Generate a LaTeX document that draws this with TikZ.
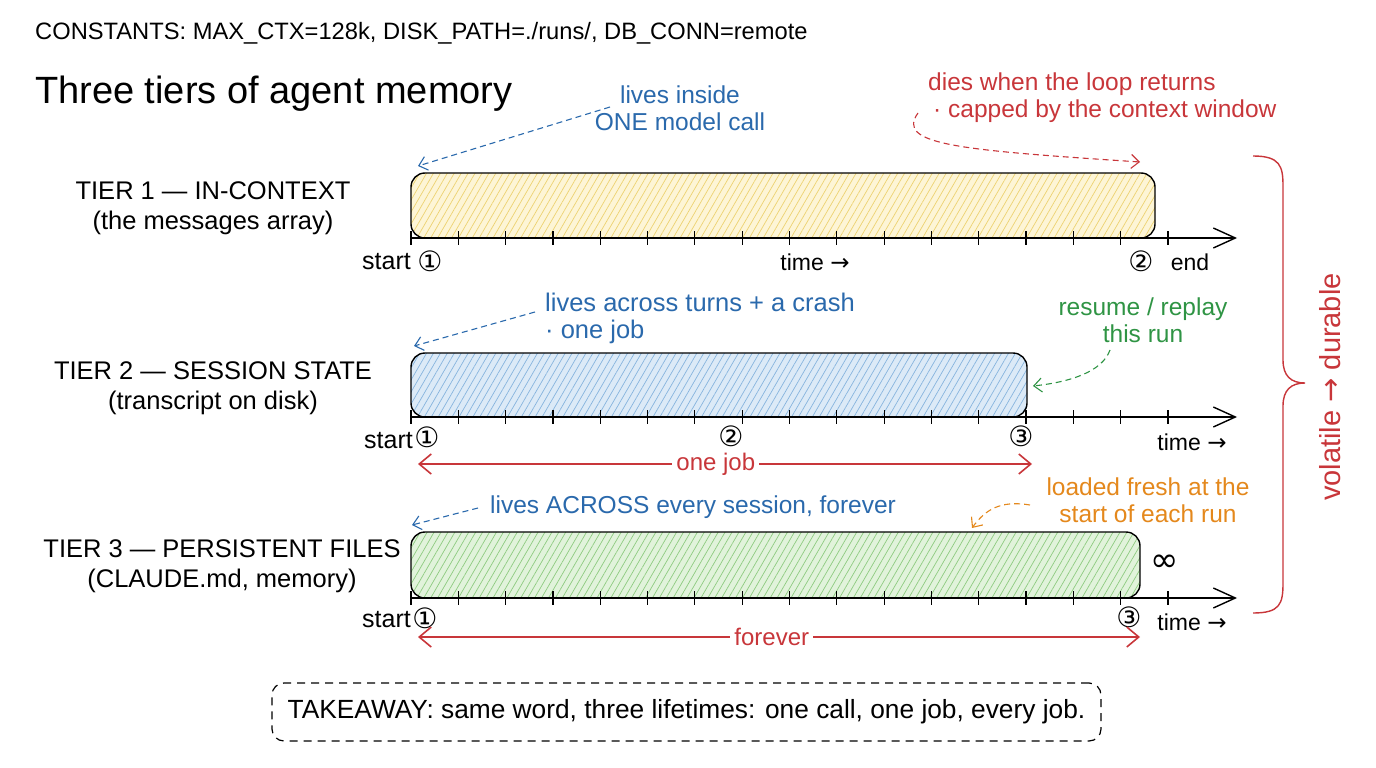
\documentclass[tikz,border=0pt]{standalone}
\usepackage{fontspec}
\setmainfont{Liberation Sans}
\newfontfamily\sym{DejaVu Sans}
\usetikzlibrary{arrows.meta,patterns.meta}
\definecolor{yfill}{HTML}{FDF5D6}
\definecolor{yhatch}{HTML}{EDD270}
\definecolor{bfill}{HTML}{DCEAF7}
\definecolor{bhatch}{HTML}{86B4DE}
\definecolor{gfill}{HTML}{E1F3DB}
\definecolor{ghatch}{HTML}{8ECB80}
\definecolor{annblue}{HTML}{2A69AC}
\definecolor{annred}{HTML}{C8363A}
\definecolor{anngreen}{HTML}{2F9444}
\definecolor{annorange}{HTML}{E4881C}
\newcommand\fsz[2]{\fontsize{#1}{#2}\selectfont}
\begin{document}
\begin{tikzpicture}[x=1pt,y=-1pt,
  txt/.style={inner sep=0pt, text=black},
  ann/.style={inner sep=0pt, align=center, font=\fsz{24.5}{27}},
  tierlbl/.style={inner sep=0pt, align=center, font=\fsz{25.5}{30}},
  bar/.style={draw=black, line width=1.4pt, rounded corners=14pt, inner sep=0pt},
  bar1/.style={bar, preaction={fill=yfill}, pattern={Lines[angle=60,distance=6pt,line width=0.7pt]}, pattern color=yhatch},
  bar2/.style={bar, preaction={fill=bfill}, pattern={Lines[angle=60,distance=6pt,line width=0.7pt]}, pattern color=bhatch},
  bar3/.style={bar, preaction={fill=gfill}, pattern={Lines[angle=60,distance=6pt,line width=0.7pt]}, pattern color=ghatch},
  axis/.style={line width=1.4pt, -{Straight Barb[length=22pt,width=20pt,line width=1.4pt]}},
  tickmark/.style={line width=1.2pt},
  dasharr/.style={line width=1.1pt, dash pattern=on 6pt off 4pt, -{Straight Barb[length=8pt,width=14pt,line width=1.1pt]}},
  redarr/.style={annred, line width=1.9pt, {Straight Barb[length=12pt,width=20pt,line width=1.6pt]}-{Straight Barb[length=12pt,width=20pt,line width=1.6pt]}},
  circ/.style={inner sep=0pt, font=\sym\fsz{28}{30}},
  axlbl/.style={inner sep=0pt, font=\fsz{23}{26}},
  spanlbl/.style={inner xsep=4pt, inner ysep=0pt, fill=white, text=annred, font=\fsz{24}{27}}
]
\useasboundingbox (0,0) rectangle (1376,768);

% header
\node[txt, anchor=base west, font=\fsz{23.7}{28}] (const) at (35,40) {CONSTANTS: MAX\_CTX=128k, DISK\_PATH=./runs/, DB\_CONN=remote};
\node[txt, anchor=base west, font=\fsz{38}{44}] (title) at (35,103) {Three tiers of agent memory};

% tier labels
\node[tierlbl] (tl1) at (213,208) {TIER 1 — IN-CONTEXT\\(the messages array)};
\node[tierlbl] (tl2) at (213,388) {TIER 2 — SESSION STATE\\(transcript on disk)};
\node[tierlbl] (tl3) at (222,566) {TIER 3 — PERSISTENT FILES\\(CLAUDE.md, memory)};

% bars
\node[bar1, minimum width=744pt, minimum height=65pt] (bar1) at (783,205.5) {};
\node[bar2, minimum width=616pt, minimum height=64pt] (bar2) at (719,385) {};
\node[bar3, minimum width=729pt, minimum height=66pt] (bar3) at (775.5,565) {};

% axes and ticks
\foreach \yy/\n in {238/1,417/2,598/3} {
  \coordinate (ax\n s) at (411,\yy);
  \coordinate (ax\n e) at (1237,\yy);
  \draw[axis] (ax\n s) -- (ax\n e);
  \foreach \k in {0,...,16} \draw[tickmark] ({411+\k*47.3125},{\yy-7}) -- ++(0,14);
}

% row 1 labels
\node[axlbl, anchor=east, font=\fsz{25}{28}] (st1) at (411,262) {start};
\node[circ] (c11) at (430,261) {①};
\node[axlbl] (time1) at (815,262) {time {\sym →}};
\node[circ] (c12) at (1141,261) {②};
\node[axlbl] (end1) at (1190,262) {end};

% row 2 labels
\node[axlbl, anchor=east, font=\fsz{25}{28}] (st2) at (413,441) {start};
\node[circ] (c21) at (427,437) {①};
\node[circ] (c22) at (731,436) {②};
\node[circ] (c23) at (1021,436) {③};
\node[axlbl] (time2) at (1192,442) {time {\sym →}};

% row 3 labels
\node[axlbl, anchor=east, font=\fsz{25}{28}] (st3) at (411,620) {start};
\node[circ] (c31) at (425,618) {①};
\node[circ] (c33) at (1129,617) {③};
\node[axlbl] (time3) at (1192,622) {time {\sym →}};
\node[inner sep=0pt, font=\sym\fsz{34}{36}] (inf) at (1165,563) {∞};

% span arrows
\coordinate (j1) at (418,464); \coordinate (j2) at (1032,464);
\draw[redarr] (j1) -- node[spanlbl, pos=0.485] (onejob) {one job} (j2);
\coordinate (f1) at (418,637); \coordinate (f2) at (1140,637);
\draw[redarr] (f1) -- node[spanlbl, pos=0.49] (forever) {forever} (f2);

% annotations
\node[ann, text=annblue] (a1) at (680,108) {lives inside\\ONE model call};
\node[ann, text=annred, align=left, anchor=west] (a2) at (928,98) {dies when the loop returns\\\hspace{5pt}· capped by the context window};
\node[ann, text=annblue, align=left, anchor=west, font=\fsz{25.5}{27}] (a3) at (545,318) {lives across turns + a crash\\· one job};
\node[ann, text=anngreen] (a4) at (1143,320) {resume / replay\\this run};
\node[ann, text=annblue, anchor=west] (a5) at (490,507) {lives ACROSS every session, forever};
\node[ann, text=annorange] (a6) at (1148,500) {loaded fresh at the\\start of each run};

\coordinate (a1s) at (610,107); \coordinate (a1e) at (418,166);
\draw[dasharr, annblue] (a1s) -- (a1e);
\coordinate (a2s) at (918,113); \coordinate (a2e) at (1140,162);
\draw[dasharr, annred] (a2s) .. controls (895,145) and (960,150) .. (a2e);
\coordinate (a3s) at (535,312); \coordinate (a3e) at (414,346);
\draw[dasharr, annblue] (a3s) -- (a3e);
\coordinate (a4s) at (1110,350); \coordinate (a4e) at (1033,386);
\draw[dasharr, anngreen] (a4s) .. controls (1102,372) and (1070,382) .. (a4e);
\coordinate (a5s) at (478,508); \coordinate (a5e) at (412,525);
\draw[dasharr, annblue] (a5s) -- (a5e);
\coordinate (a6s) at (1030,505); \coordinate (a6e) at (972,528);
\draw[dasharr, annorange] (a6s) .. controls (1000,500) and (985,510) .. (a6e);

% brace
\coordinate (brt) at (1253,156); \coordinate (brb) at (1253,613); \coordinate (brtip) at (1305,383);
\draw[annred, line width=1.4pt] (brt) .. controls (1280,156) and (1283,166) .. (1283,186) -- (1283,360)
  .. controls (1283,376) and (1291,383) .. (brtip)
  .. controls (1291,383) and (1283,390) .. (1283,406) -- (1283,583)
  .. controls (1283,604) and (1280,613) .. (brb);
\node[inner sep=0pt, text=annred, rotate=90, font=\fsz{29}{34}] (vd) at (1330,387) {volatile {\sym →} durable};

% takeaway
\node[draw, line width=1.2pt, dash pattern=on 8pt off 6pt, rounded corners=12pt, minimum width=829pt, minimum height=58pt, inner sep=0pt, font=\fsz{26.3}{30}] (take) at (686.5,712) {TAKEAWAY: same word, three lifetimes: one call, one job, every job.};
\end{tikzpicture}
\end{document}
